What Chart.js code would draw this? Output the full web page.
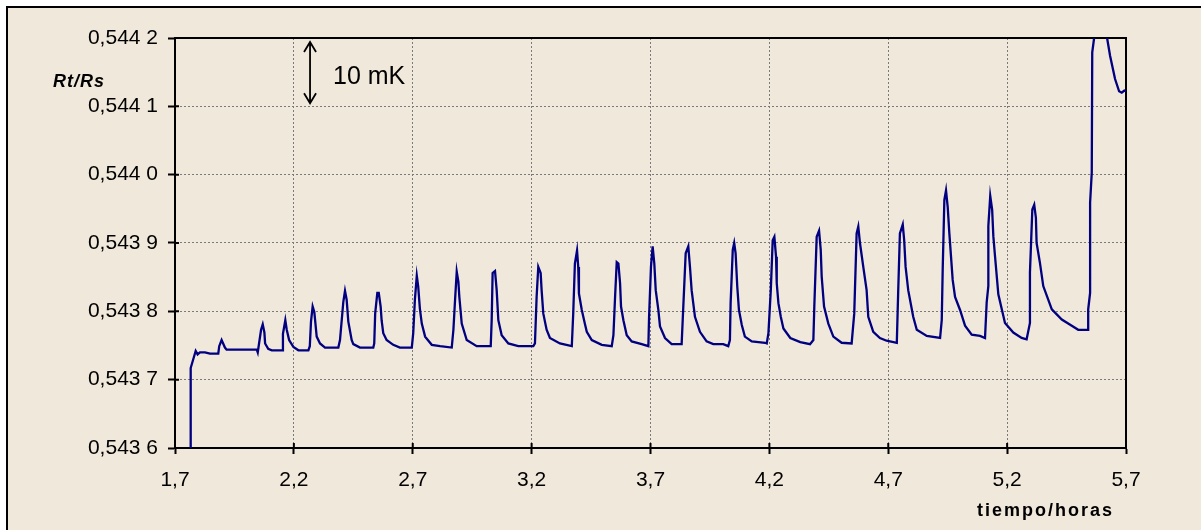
<!DOCTYPE html>
<html>
<head>
<meta charset="utf-8">
<script src="https://cdn.jsdelivr.net/npm/chart.js@4/dist/chart.umd.min.js"></script>
<style>
  html, body { margin: 0; padding: 0; background: #fff; }
  #chart { display: block; }
</style>
</head>
<body>
<canvas id="chart" width="1201" height="530"></canvas>
<script>
const timeHours = [
  1.766, 1.766, 1.787, 1.795, 1.805, 1.826, 1.847, 1.882,
  1.886, 1.896, 1.910, 1.917, 2.044,
  2.048, 2.062, 2.069, 2.076, 2.079, 2.092, 2.107, 2.151,
  2.154, 2.164, 2.170, 2.180, 2.198, 2.219, 2.261,
  2.267, 2.272, 2.279, 2.286, 2.296, 2.310, 2.331, 2.387,
  2.394, 2.408, 2.415, 2.422, 2.429, 2.443, 2.450, 2.478, 2.534,
  2.538, 2.542, 2.551, 2.557, 2.565, 2.569, 2.576, 2.590, 2.618, 2.646, 2.696,
  2.702, 2.709, 2.717, 2.723, 2.730, 2.738, 2.752, 2.780, 2.815, 2.864,
  2.871, 2.878, 2.885, 2.892, 2.896, 2.906, 2.927, 2.969, 3.028,
  3.032, 3.036, 3.046, 3.053, 3.060, 3.074, 3.102, 3.144, 3.207,
  3.214, 3.221, 3.228, 3.238, 3.242, 3.249, 3.263, 3.277, 3.319, 3.369,
  3.375, 3.382, 3.391, 3.396, 3.399, 3.411, 3.424, 3.432, 3.453, 3.495, 3.537,
  3.544, 3.551, 3.558, 3.565, 3.572, 3.576, 3.586, 3.600, 3.621, 3.663, 3.691,
  3.694, 3.702, 3.709, 3.716, 3.722, 3.733, 3.740, 3.761, 3.789, 3.831,
  3.838, 3.848, 3.859, 3.866, 3.873, 3.887, 3.908, 3.936, 3.964, 4.006, 4.027,
  4.034, 4.037, 4.046, 4.052, 4.058, 4.065, 4.072, 4.084, 4.097, 4.126, 4.182, 4.189,
  4.196, 4.206, 4.214, 4.221, 4.228, 4.231, 4.238, 4.248, 4.259, 4.288, 4.330, 4.371,
  4.385, 4.389, 4.399, 4.409, 4.416, 4.420, 4.430, 4.448, 4.469, 4.504, 4.546,
  4.557, 4.567, 4.574, 4.581, 4.595, 4.609, 4.616, 4.637, 4.665, 4.693, 4.736,
  4.742, 4.749, 4.761, 4.767, 4.773, 4.784, 4.805, 4.820, 4.862, 4.918,
  4.925, 4.929, 4.936, 4.943, 4.950, 4.957, 4.971, 4.981, 5.002, 5.023, 5.051, 5.086, 5.107,
  5.114, 5.121, 5.121, 5.129, 5.137, 5.142, 5.149, 5.163, 5.191, 5.226, 5.261, 5.282,
  5.296, 5.296, 5.306, 5.314, 5.321, 5.324, 5.338, 5.352, 5.388, 5.430, 5.472, 5.499, 5.541,
  5.541, 5.549, 5.549, 5.556, 5.558, 5.567, 5.591, 5.619, 5.633, 5.654, 5.671, 5.682, 5.693, 5.700
];
const ratioRtRs = [
  0.543600, 0.543717, 0.543742, 0.543737, 0.543740, 0.543740, 0.543738, 0.543738,
  0.543749, 0.543758, 0.543747, 0.543744, 0.543744,
  0.543740, 0.543773, 0.543781, 0.543769, 0.543753, 0.543745, 0.543743, 0.543743,
  0.543767, 0.543787, 0.543773, 0.543758, 0.543748, 0.543743, 0.543743,
  0.543749, 0.543785, 0.543807, 0.543799, 0.543763, 0.543753, 0.543747, 0.543747,
  0.543758, 0.543814, 0.543830, 0.543817, 0.543785, 0.543758, 0.543752, 0.543747, 0.543747,
  0.543753, 0.543797, 0.543827, 0.543827, 0.543807, 0.543787, 0.543768, 0.543758, 0.543751, 0.543747, 0.543747,
  0.543768, 0.543817, 0.543852, 0.543836, 0.543804, 0.543782, 0.543763, 0.543751, 0.543749, 0.543747,
  0.543773, 0.543817, 0.543858, 0.543843, 0.543821, 0.543782, 0.543758, 0.543749, 0.543749,
  0.543787, 0.543856, 0.543859, 0.543831, 0.543787, 0.543765, 0.543753, 0.543749, 0.543749,
  0.543753, 0.543821, 0.543865, 0.543856, 0.543831, 0.543797, 0.543773, 0.543761, 0.543753, 0.543749,
  0.543797, 0.543870, 0.543889, 0.543865, 0.543826, 0.543802, 0.543782, 0.543770, 0.543758, 0.543751, 0.543749,
  0.543765, 0.543821, 0.543872, 0.543870, 0.543841, 0.543807, 0.543787, 0.543765, 0.543756, 0.543752, 0.543749,
  0.543792, 0.543865, 0.543895, 0.543870, 0.543831, 0.543802, 0.543778, 0.543761, 0.543752, 0.543752,
  0.543807, 0.543885, 0.543895, 0.543865, 0.543831, 0.543792, 0.543770, 0.543756, 0.543752, 0.543752, 0.543749,
  0.543758, 0.543812, 0.543890, 0.543900, 0.543885, 0.543836, 0.543802, 0.543780, 0.543763, 0.543756, 0.543754, 0.543753,
  0.543768, 0.543831, 0.543904, 0.543909, 0.543880, 0.543841, 0.543812, 0.543792, 0.543775, 0.543761, 0.543755, 0.543752,
  0.543758, 0.543807, 0.543909, 0.543918, 0.543890, 0.543851, 0.543807, 0.543782, 0.543763, 0.543754, 0.543753,
  0.543797, 0.543914, 0.543924, 0.543900, 0.543865, 0.543831, 0.543792, 0.543770, 0.543761, 0.543757, 0.543754,
  0.543831, 0.543914, 0.543927, 0.543904, 0.543865, 0.543831, 0.543792, 0.543773, 0.543764, 0.543761,
  0.543787, 0.543861, 0.543963, 0.543977, 0.543953, 0.543914, 0.543846, 0.543821, 0.543802, 0.543779, 0.543766, 0.543764, 0.543761,
  0.543813, 0.543837, 0.543925, 0.543969, 0.543949, 0.543910, 0.543881, 0.543825, 0.543783, 0.543769, 0.543761, 0.543759,
  0.543783, 0.543857, 0.543949, 0.543956, 0.543937, 0.543900, 0.543871, 0.543837, 0.543803, 0.543788, 0.543779, 0.543773, 0.543773,
  0.543803, 0.543827, 0.543959, 0.544003, 0.544179, 0.544203, 0.544225, 0.544203, 0.544174, 0.544140, 0.544122, 0.544120, 0.544123, 0.544122
];

const xTicks = [1.7, 2.2, 2.7, 3.2, 3.7, 4.2, 4.7, 5.2, 5.7];
const yTicks = [0.5436, 0.5437, 0.5438, 0.5439, 0.5440, 0.5441, 0.5442];

// 10 mK marker: one y-division
const markTime = 2.268;
const markFrom = 0.5442;
const markTo = 0.5441;
const markLabel = '10 mK';

const FONT = '"Liberation Sans", Arial, sans-serif';
const BG = '#F0E8DA';

function fmtY(v) {
  const s = v.toFixed(4).replace('.', ',');
  return s.slice(0, -1) + ' ' + s.slice(-1);
}

const decor = {
  id: 'decor',
  beforeDraw(chart) {
    const ctx = chart.ctx;
    ctx.save();
    ctx.fillStyle = '#fff';
    ctx.fillRect(0, 0, chart.width, chart.height);
    ctx.fillStyle = BG;
    ctx.fillRect(7, 7, chart.width, chart.height);
    ctx.strokeStyle = '#000';
    ctx.lineWidth = 2;
    ctx.beginPath();
    ctx.moveTo(7, chart.height);
    ctx.lineTo(7, 7);
    ctx.lineTo(chart.width, 7);
    ctx.stroke();
    ctx.restore();
  },
  beforeDatasetsDraw(chart) {
    const {ctx, chartArea: a} = chart;
    ctx.save();
    ctx.strokeStyle = '#000';
    ctx.lineWidth = 2;
    ctx.beginPath();
    ctx.moveTo(a.left, a.top);
    ctx.lineTo(a.right, a.top);
    ctx.lineTo(a.right, a.bottom);
    ctx.stroke();
    // short tick stubs inside the plot, so ticks cross the axes
    ctx.beginPath();
    xTicks.forEach(v => {
      const px = chart.scales.x.getPixelForValue(v);
      ctx.moveTo(px, a.bottom); ctx.lineTo(px, a.bottom - 5);
    });
    yTicks.forEach(v => {
      const py = chart.scales.y.getPixelForValue(v);
      ctx.moveTo(a.left, py); ctx.lineTo(a.left + 4, py);
    });
    ctx.stroke();
    ctx.restore();
  },
  afterDraw(chart) {
    const {ctx, scales} = chart;
    const x = scales.x.getPixelForValue(markTime);
    const y1 = scales.y.getPixelForValue(markFrom) + 4;
    const y2 = scales.y.getPixelForValue(markTo) - 3;
    ctx.save();
    ctx.strokeStyle = '#000';
    ctx.lineWidth = 1.8;
    ctx.beginPath();
    ctx.moveTo(x, y1); ctx.lineTo(x, y2);
    ctx.moveTo(x - 6, y1 + 10); ctx.lineTo(x, y1); ctx.lineTo(x + 6, y1 + 10);
    ctx.moveTo(x - 6, y2 - 10); ctx.lineTo(x, y2); ctx.lineTo(x + 6, y2 - 10);
    ctx.stroke();

    ctx.fillStyle = '#000';
    ctx.font = '25px ' + FONT;
    ctx.textBaseline = 'middle';
    ctx.textAlign = 'left';
    ctx.fillText(markLabel, x + 23, (y1 + y2) / 2 + 4);

    // axis titles
    ctx.font = 'bold italic 18px ' + FONT;
    ctx.letterSpacing = '1px';
    ctx.fillText('Rt/Rs', 53, 82);

    ctx.font = 'bold 18px ' + FONT;
    ctx.letterSpacing = '2px';
    ctx.textAlign = 'right';
    ctx.fillText('tiempo/horas', 1114, 511);
    ctx.restore();
  }
};

const ctx = document.getElementById('chart').getContext('2d');
new Chart(ctx, {
  type: 'line',
  data: {
    datasets: [{
      label: 'Rt/Rs',
      data: timeHours.map((t, i) => ({x: t, y: ratioRtRs[i]})),
      borderColor: '#000080',
      borderWidth: 2.3,
      pointRadius: 0,
      tension: 0,
      fill: false
    }]
  },
  options: {
    responsive: false,
    animation: false,
    events: [],
    layout: { padding: { left: 0, top: 38, right: 75, bottom: 0 } },
    plugins: { legend: { display: false }, tooltip: { enabled: false } },
    scales: {
      x: {
        type: 'linear',
        min: 1.7,
        max: 5.7,
        afterBuildTicks: s => { s.ticks = xTicks.map(v => ({value: v})); },
        afterFit: s => { s.height = 82; },
        grid: { color: '#7a7a7a', lineWidth: 1, tickColor: '#000', tickWidth: 2, tickLength: 6, tickBorderDash: [] },
        border: { color: '#000', width: 2, dash: [2, 2] },
        ticks: {
          color: '#000',
          padding: 14,
          maxRotation: 0,
          font: { family: FONT, size: 21 },
          callback: v => v.toFixed(1).replace('.', ',')
        }
      },
      y: {
        min: 0.5436,
        max: 0.5442,
        afterBuildTicks: s => { s.ticks = yTicks.map(v => ({value: v})); },
        afterFit: s => { s.width = 175; },
        grid: { color: '#7a7a7a', lineWidth: 1, tickColor: '#000', tickWidth: 2, tickLength: 7, tickBorderDash: [] },
        border: { color: '#000', width: 2, dash: [2, 2] },
        ticks: {
          color: '#000',
          padding: 10,
          font: { family: FONT, size: 21 },
          callback: v => fmtY(v)
        }
      }
    }
  },
  plugins: [decor]
});
</script>
</body>
</html>
